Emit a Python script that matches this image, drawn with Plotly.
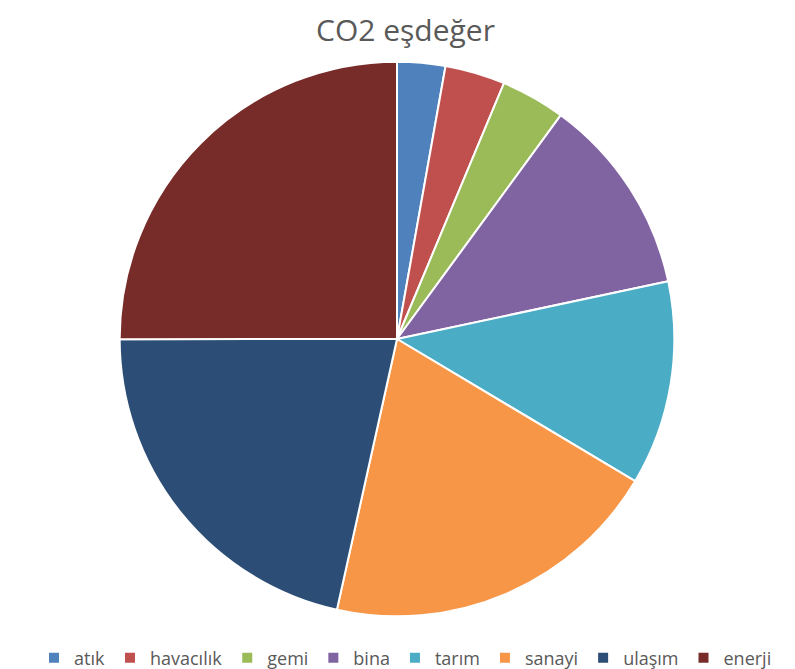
import plotly.graph_objects as go

categories = ["atık", "havacılık", "gemi", "bina", "tarım", "sanayi", "ulaşım", "enerji"]
values = [2.8, 3.5, 3.75, 11.6, 11.9, 19.9, 21.5, 25.0]
colors = ["#4F81BD", "#C0504D", "#9BBB59", "#8064A2", "#4BACC6", "#F79646", "#2C4D75", "#772C2A"]

W, H = 795, 669
cx, cy, r = 389, 333, 279

fig = go.Figure(go.Pie(
    labels=categories,
    values=values,
    sort=False,
    direction="clockwise",
    rotation=0,
    marker=dict(colors=colors, line=dict(color="white", width=2)),
    textinfo="none",
    domain=dict(x=[(cx - r) / W, (cx + r) / W], y=[1 - (cy + r) / H, 1 - (cy - r) / H]),
))

fig.update_layout(
    width=W, height=H,
    margin=dict(l=0, r=0, t=0, b=0),
    paper_bgcolor="white",
    title=dict(text="CO2 eşdeğer", x=0.5, xanchor="center", y=1 - 22 / H, yanchor="middle",
               font=dict(family="Open Sans", size=30, color="#595959")),
    legend=dict(orientation="h", x=0.5, xanchor="center", y=1 - 654 / H, yanchor="middle",
                font=dict(family="Open Sans", size=18, color="#595959"),
                itemwidth=30, traceorder="normal"),
    showlegend=True,
)

fig.write_html("out.html")
